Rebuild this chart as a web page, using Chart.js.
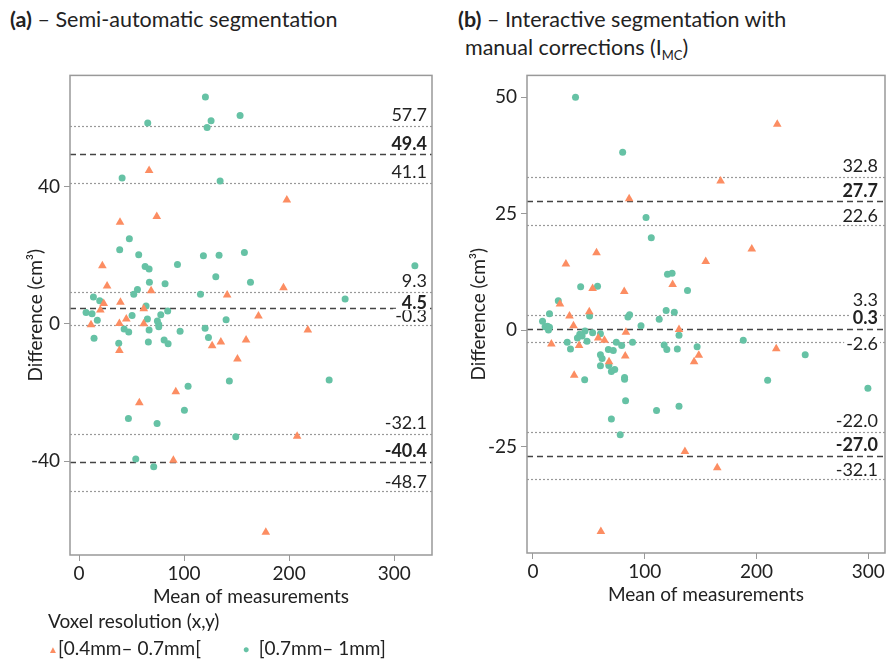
<!DOCTYPE html>
<html>
<head>
<meta charset="utf-8">
<script src="https://cdn.jsdelivr.net/npm/chart.js@4.4.1/dist/chart.umd.min.js"></script>
<style>
  body { margin: 0; background: #fff; font-family: Lato, "Open Sans", sans-serif; color: #222; }
  .wrap { position: relative; width: 890px; height: 661px; overflow: hidden; }
  canvas { position: absolute; }
  .ttl { position: absolute; font-size: 21.5px; white-space: nowrap; line-height: 26px; }
  .ttl b { font-weight: bold; }
  .leg { position: absolute; font-size: 19px; white-space: nowrap; line-height: 22px; }
</style>
</head>
<body>
<div class="wrap">
  <div class="ttl" style="left:10px;top:6px"><b>(a)</b> – Semi-automatic segmentation</div>
  <div class="ttl" style="left:458px;top:6px"><b>(b)</b> – Interactive segmentation with</div>
  <div class="ttl" style="left:465px;top:34px">manual corrections (I<sub style="font-size:13px;line-height:0">MC</sub>)</div>
  <canvas id="chartA" width="445" height="560" style="left:0;top:60px"></canvas>
  <canvas id="chartB" width="445" height="560" style="left:445px;top:60px"></canvas>
  <div class="leg" style="left:48px;top:610px" id="legTitle"></div>
  <div class="leg" style="left:48px;top:637px" id="legItems"></div>
</div>
<script>
// series labels and colours
const seriesLabels = ["[0.4mm\u2013 0.7mm[", "[0.7mm\u2013 1mm]"];
const legendTitle = "Voxel resolution (x,y)";
const orange = "#fc8d62";
const green = "#66c2a5";

// tick labels
const xTicks = [0, 100, 200, 300];
const yTicksA = [-40, 0, 40];
const yTicksB = [-25, 0, 25, 50];

// (a) semi-automatic : [mean, difference]
const orangeA = [[66.7,44.7],[74,31.3],[39,29.6],[22.2,16.9],[26.7,11.0],[68.6,9.6],[23.5,5.9],[39.4,6.3],[141,8.4],
  [61.6,4.4],[20.3,4.0],[45.0,1.4],[170.8,2.3],[11.4,-0.3],[38.4,0.1],[61.6,0],[126.7,-6.4],[135,-5.3],[159,-4.7],
  [38.4,-7.8],[150.8,-10.3],[92.1,-19.8],[57.4,-23.0],[89.8,-39.8],[217.8,-1.8],[207.6,-32.8],[177.8,-60.8],
  [197.8,36.1],[194.6,10.5]];
const greenA = [[120.3,66.1],[153.3,60.7],[125.7,59.2],[121.9,57.2],[65.4,58.5],[41.0,42.5],[134.3,41.6],[47.9,24.8],
  [38.7,21.6],[56.8,20.1],[118.4,19.8],[133.3,20.0],[157.4,20.8],[62.9,16.7],[66.7,16.0],[93.7,17.3],[67.0,12.1],
  [81.9,11.7],[130.2,13.7],[163.2,12.1],[55.6,10.0],[52.1,8.6],[13.7,7.8],[19.7,6.7],[115.6,8.6],[63.8,5.2],[6.7,3.3],
  [12.4,2.9],[50.5,2.4],[77.8,2.6],[84.4,3.7],[17.4,1.0],[65.1,1.4],[74.6,0.8],[140,1.2],[75.9,-0.2],[75.9,-0.9],
  [42.9,-1.5],[66.7,-1.8],[47.3,-2.4],[96.2,-2.2],[120,-1.3],[14.3,-4.2],[123.2,-4.0],[81,-4.7],[84.8,-5.8],[66.0,-5.3],
  [37.8,-5.7],[143.1,-16.7],[103.8,-18.2],[100.3,-25.2],[47,-27.6],[74.3,-29.1],[149.2,-32.9],[54,-39.4],[71.1,-41.7],
  [238.1,-16.4],[319.7,16.9],[253.3,7.2]];
const meanA = [49.4, 4.5, -40.4];
const limitsA = [57.7, 41.1, 9.3, -0.3, -32.1, -48.7];

// (b) interactive with manual corrections
const orangeB = [[86.1,28.2],[56.9,16.6],[29.5,14.2],[125.0,9.8],[53.4,8.9],[81.7,8.3],[24.2,5.6],[218.6,44.2],[167.9,32.0],
  [195.8,17.4],[154.6,14.7],[32.7,3.0],[50.4,3.9],[36.3,0.9],[83.2,-0.5],[58.4,-1.7],[64.0,-2.2],[130.7,0.1],[16.5,-3.0],
  [41.3,-3.3],[148.4,-5.4],[144.2,-6.8],[82.6,-5.6],[68.1,-6.8],[36.9,-9.7],[60.8,-43.3],[136,-26.1],[217.7,-4.0],[164.9,-29.6]];
const greenB = [[38.1,50.0],[80.3,38.2],[101.2,24.2],[105.9,19.8],[120.4,12.0],[124.5,12.2],[138.3,8.5],[42.7,9.3],[57.8,9.4],
  [22.7,6.3],[14.8,3.5],[50.7,3.0],[85.0,2.8],[86.5,3.3],[119.2,4.2],[126.5,3.8],[113.0,2.3],[96.7,0.9],[8.6,1.9],[10.9,0.7],
  [13.0,0.8],[14.8,0.6],[13.9,0],[46.6,-0.2],[41.9,-0.9],[44.0,-1.3],[39.8,-1.7],[48.4,-2.4],[53.4,-0.6],[60.4,-0.8],
  [74.6,-2.6],[79.4,-3.3],[89.1,-2.6],[130.7,-1.1],[30.7,-2.6],[33.6,-4.1],[67.5,-4.2],[71.9,-4.4],[117.4,-3.2],[119.8,-4.2],
  [129.2,-4.1],[146.9,-3.6],[60.4,-5.3],[61.9,-6.1],[67.9,-7.6],[60.4,-7.7],[73.2,-8.5],[70.2,-8.9],[46.3,-10.7],[82.0,-10.2],
  [82.0,-10.6],[82.9,-15.2],[110.6,-17.3],[130.7,-16.4],[70.2,-19.1],[78.1,-22.5],[188.2,-2.2],[243.6,-5.3],[210,-10.8],[299.7,-12.5]];
const meanB = [27.7, 0.3, -27.0];
const limitsB = [32.8, 22.6, 3.3, -2.6, -22.0, -32.1];

const FONT = "Lato, 'Open Sans', sans-serif";

// legend (html)
document.getElementById("legTitle").textContent = legendTitle;
document.getElementById("legItems").innerHTML =
  '<span style="color:' + orange + ';font-size:10px;vertical-align:2px">&#9650;</span>' + seriesLabels[0] +
  '<span style="display:inline-block;width:42px"></span>' +
  '<span style="color:' + green + ';font-size:10px;vertical-align:2px">&#9679;</span>&nbsp;&nbsp;' + seriesLabels[1];

const refLinesPlugin = {
  id: 'refLines',
  beforeDatasetsDraw(chart, args, opts) {
    const ctx = chart.ctx, a = chart.chartArea, y = chart.scales.y;
    ctx.save();
    const lineOf = (v, bold) => {
      const py = Math.round(y.getPixelForValue(v)) + 0.5;
      ctx.beginPath();
      if (bold) { ctx.setLineDash([6, 4]); ctx.strokeStyle = '#444'; ctx.lineWidth = 1.5; }
      else { ctx.setLineDash([2, 2]); ctx.strokeStyle = '#999'; ctx.lineWidth = 1.2; }
      ctx.moveTo(a.left, py); ctx.lineTo(a.right, py); ctx.stroke();
      ctx.setLineDash([]);
    };
    const labelOf = (v, bold) => {
      const py = y.getPixelForValue(v);
      const shift = opts.shift[v.toFixed(1)];
      const by = py + (shift === undefined ? -5 : shift);
      const txt = v.toFixed(1);
      ctx.font = (bold ? 'bold ' : '') + '18px ' + FONT;
      ctx.textAlign = 'right'; ctx.textBaseline = 'alphabetic';
      const w = ctx.measureText(txt).width;
      const rx = a.right - opts.inset;
      ctx.fillStyle = '#fff';
      ctx.fillRect(rx - w - 2, by - 13, w + 4, 14);
      ctx.fillStyle = '#222';
      ctx.fillText(txt, rx, by);
    };
    opts.limits.forEach(v => lineOf(v, false));
    opts.means.forEach(v => lineOf(v, true));
    opts.limits.forEach(v => labelOf(v, false));
    opts.means.forEach(v => labelOf(v, true));
    ctx.restore();
  },
  afterDraw(chart) {
    const ctx = chart.ctx, a = chart.chartArea;
    ctx.save();
    ctx.strokeStyle = '#999'; ctx.lineWidth = 1.5;
    ctx.strokeRect(a.left, a.top, a.right - a.left, a.bottom - a.top);
    ctx.restore();
  }
};

function pts(arr) { return arr.map(p => ({ x: p[0], y: p[1] })); }

function makeChart(id, orangePts, greenPts, means, limits, xr, yr, yTicks, dims) {
  return new Chart(document.getElementById(id), {
    type: 'scatter',
    data: {
      datasets: [
        { label: seriesLabels[0], data: pts(orangePts), pointStyle: 'triangle', pointRadius: 5,
          backgroundColor: orange, borderWidth: 0 },
        { label: seriesLabels[1], data: pts(greenPts), pointStyle: 'circle', pointRadius: 3.5,
          backgroundColor: green, borderWidth: 0 }
      ]
    },
    options: {
      responsive: false,
      animation: false,
      devicePixelRatio: 1,
      layout: { padding: { left: 0, right: dims.right, top: dims.top, bottom: 0 } },
      plugins: {
        legend: { display: false },
        tooltip: { enabled: false },
        refLines: { means: means, limits: limits, inset: dims.inset, shift: dims.shift }
      },
      scales: {
        x: {
          type: 'linear', min: xr[0], max: xr[1],
          afterBuildTicks: s => { s.ticks = xTicks.map(v => ({ value: v })); },
          afterFit: s => { s.height = dims.xh; },
          ticks: { color: '#222', font: { family: FONT, size: 19 }, padding: 1, callback: v => String(v) },
          grid: { display: true, drawOnChartArea: false, drawTicks: true, tickLength: 6, color: '#999' },
          border: { display: false },
          title: { display: true, text: 'Mean of measurements', color: '#222',
                   font: { family: FONT, size: 19 }, padding: { top: 0, bottom: dims.xtp } }
        },
        y: {
          type: 'linear', min: yr[0], max: yr[1],
          afterBuildTicks: s => { s.ticks = yTicks.map(v => ({ value: v })); },
          afterFit: s => { s.width = dims.yw; },
          ticks: { color: '#222', font: { family: FONT, size: 19 }, padding: 4, callback: v => String(v) },
          grid: { display: true, drawOnChartArea: false, drawTicks: true, tickLength: 6, color: '#999' },
          border: { display: false },
          title: { display: true, text: 'Difference (cm\u00B3)', color: '#222',
                   font: { family: FONT, size: 19 }, padding: { top: dims.tp, bottom: 0 } }
        }
      }
    },
    plugins: [refLinesPlugin]
  });
}

makeChart('chartA', orangeA, greenA, meanA, limitsA, [-8.6, 336], [-67.4, 72.4], yTicksA,
  { right: 13, top: 14, xh: 65, yw: 70, tp: 24, inset: 5, xtp: 12,
    shift: { '4.5': 1, '-0.3': -3, '-48.7': -3, '49.4': -4 } });
makeChart('chartB', orangeB, greenB, meanB, limitsB, [-5.3, 315], [-47.9, 54.7], yTicksB,
  { right: 1, top: 13, xh: 67, yw: 82, tp: 22, inset: 7, xtp: 14,
    shift: { '3.3': -9, '-2.6': 8, '22.6': -3, '-32.1': -3, '27.7': -4 } });
</script>
</body>
</html>
